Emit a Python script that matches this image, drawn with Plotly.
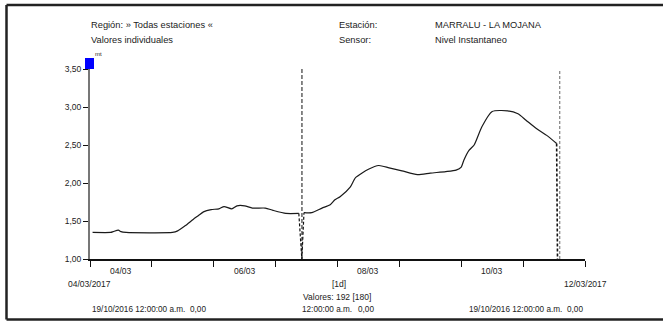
import plotly.graph_objects as go

# ---------------- data ----------------
times = [
    "2017-03-04 01:00", "2017-03-04 08:00", "2017-03-04 09:00", "2017-03-04 11:00",
    "2017-03-04 12:00", "2017-03-04 14:00", "2017-03-05 08:00", "2017-03-05 10:00",
    "2017-03-05 13:00", "2017-03-05 16:00", "2017-03-05 18:00", "2017-03-05 20:00",
    "2017-03-05 23:00", "2017-03-06 02:00", "2017-03-06 04:00", "2017-03-06 07:00",
    "2017-03-06 09:00", "2017-03-06 12:00", "2017-03-06 15:00", "2017-03-06 20:00",
    "2017-03-06 23:00", "2017-03-07 04:00", "2017-03-07 09:00", "2017-03-07 10:00",
    "2017-03-07 11:00", "2017-03-07 14:00", "2017-03-07 18:00", "2017-03-07 21:00",
    "2017-03-07 23:00", "2017-03-08 01:00", "2017-03-08 05:00", "2017-03-08 07:00",
    "2017-03-08 12:00", "2017-03-08 16:00", "2017-03-08 20:00", "2017-03-09 01:00",
    "2017-03-09 07:00", "2017-03-09 12:00", "2017-03-09 18:00", "2017-03-09 22:00",
    "2017-03-10 00:00", "2017-03-10 01:00", "2017-03-10 03:00", "2017-03-10 05:00",
    "2017-03-10 08:00", "2017-03-10 12:00", "2017-03-10 18:00", "2017-03-10 22:00",
    "2017-03-11 01:00", "2017-03-11 05:00", "2017-03-11 09:00", "2017-03-11 13:00",
]
levels = [
    1.35, 1.35, 1.36, 1.38,
    1.36, 1.35, 1.35, 1.37,
    1.44, 1.52, 1.57, 1.62,
    1.65, 1.66, 1.69, 1.66,
    1.70, 1.70, 1.67, 1.67,
    1.64, 1.60, 1.60, None,
    1.61, 1.61, 1.67, 1.71,
    1.78, 1.82, 1.95, 2.07,
    2.18, 2.23, 2.20, 2.16,
    2.11, 2.13, 2.15, 2.17,
    2.21, 2.30, 2.43, 2.50,
    2.74, 2.94, 2.95, 2.91,
    2.83, 2.72, 2.63, 2.52,
]

# gap markers (missing data)
gap_lines = ["2017-03-07 10:13", "2017-03-11 14:13"]
gap_drop_a_x = ["2017-03-07 09:00", "2017-03-07 10:10", "2017-03-07 11:00"]
gap_drop_a_y = [1.60, 1.00, 1.61]
gap_drop_b_x = ["2017-03-11 13:00", "2017-03-11 13:20"]
gap_drop_b_y = [2.52, 1.00]

day_ticks = ["2017-03-%02d" % d for d in range(4, 13)]
label_pos = ["2017-03-04 12:00", "2017-03-06 12:00", "2017-03-08 12:00", "2017-03-10 12:00"]
label_txt = ["04/03", "06/03", "08/03", "10/03"]
y_ticks = [1.0, 1.5, 2.0, 2.5, 3.0, 3.5]

# ---------------- layout helpers ----------------
W, H = 663, 322
L, R, T, B = 90, 78, 69, 63
PW, PH = W - L - R, H - T - B


def px(x):
    return (x - L) / PW


def py(y):
    return (H - B - y) / PH


FONT = "Liberation Sans, Arial, sans-serif"
TXT = "#222222"

fig = go.Figure()

fig.add_trace(go.Scatter(
    x=times, y=levels, mode="lines", connectgaps=False,
    line=dict(color="#1a1a1a", width=1.2, shape="spline", smoothing=0.6),
    hoverinfo="skip", showlegend=False))

fig.add_trace(go.Scatter(
    x=gap_drop_a_x, y=gap_drop_a_y, mode="lines",
    line=dict(color="#111111", width=1.2, dash="3px,2px"), showlegend=False))
fig.add_trace(go.Scatter(
    x=gap_drop_b_x, y=gap_drop_b_y, mode="lines",
    line=dict(color="#111111", width=1.6, dash="3px,2px"), showlegend=False))

for i, g in enumerate(gap_lines):
    fig.add_shape(type="line", xref="x", yref="paper", x0=g, x1=g, y0=0, y1=1.0,
                  line=dict(color="#111111" if i == 0 else "#666666", width=1,
                            dash="4px,2px" if i == 0 else "3px,2px"))

# frame: left, top and bottom edges only
frame = dict(color="#222222", width=2.5)
fig.add_shape(type="line", xref="paper", yref="paper",
              x0=px(6.5), x1=px(6.5), y0=py(5), y1=py(319.5), line=frame)
fig.add_shape(type="line", xref="paper", yref="paper",
              x0=px(6.5), x1=px(663), y0=py(5), y1=py(5), line=frame)
fig.add_shape(type="line", xref="paper", yref="paper",
              x0=px(6.5), x1=px(663), y0=py(319.5), y1=py(319.5), line=frame)

# blue square at top of y axis
fig.add_shape(type="rect", xref="paper", yref="paper",
              x0=px(85), x1=px(94), y0=py(69), y1=py(58),
              fillcolor="#0000ff", line=dict(color="#0000ff", width=0))

ann = []


def text(x, y, s, anchor="left", size=8.2):
    ann.append(dict(xref="paper", yref="paper", x=px(x), y=py(y), text=s,
                    showarrow=False, xanchor=anchor, yanchor="middle",
                    font=dict(family=FONT, size=size, color=TXT)))


text(89, 25, "Región: » Todas estaciones «", size=9.3)
text(89, 40, "Valores individuales", size=9.3)
text(337, 25, "Estación:", size=9.3)
text(337, 40, "Sensor:", size=9.3)
text(433, 25, "MARRALU - LA MOJANA", size=9.3)
text(433, 40, "Nivel Instantaneo", size=9.3)
text(93, 54, "mt", size=6)

for xp, t in zip(label_pos, label_txt):
    ann.append(dict(xref="x", yref="paper", x=xp, y=py(270.5), text=t,
                    showarrow=False, xanchor="center", yanchor="middle",
                    font=dict(family=FONT, size=8.5, color=TXT)))

text(89, 284, "04/03/2017", anchor="center", size=8.5)
text(585, 284, "12/03/2017", anchor="center", size=8.5)
text(339, 284, "[1d]", anchor="center", size=8.5)
text(337, 296.5, "Valores: 192 [180]", anchor="center", size=8.5)
text(90, 309, "19/10/2016 12:00:00 a.m.")
text(208, 309, "0,00", anchor="right")
text(300, 309, "12:00:00 a.m.")
text(376, 309, "0,00", anchor="right")
text(467, 309, "19/10/2016 12:00:00 a.m.")
text(585, 309, "0,00", anchor="right")

fig.update_layout(
    width=W, height=H,
    margin=dict(l=L, r=R, t=T, b=B, pad=0),
    paper_bgcolor="white", plot_bgcolor="white",
    separators=",.",
    showlegend=False,
    annotations=ann,
    font=dict(family=FONT, size=8.5, color=TXT),
    xaxis=dict(type="date", range=["2017-03-04", "2017-03-12"],
               tickmode="array", tickvals=day_ticks, ticktext=[""] * len(day_ticks),
               ticks="outside", ticklen=6, tickwidth=1.3, tickcolor="#111111",
               showline=True, linecolor="#111111", linewidth=1.5,
               showgrid=False, zeroline=False, fixedrange=True),
    yaxis=dict(range=[1.0, 3.5], tickmode="array", tickvals=y_ticks,
               tickformat=".2f", ticks="outside", ticklen=5, tickwidth=1.3,
               tickcolor="#111111", showline=True, linecolor="#777777", linewidth=2,
               showgrid=False, zeroline=False, fixedrange=True,
               tickfont=dict(family=FONT, size=8.5, color=TXT)),
)

fig.write_html("out.html", config={"displayModeBar": False},
               post_script="document.body.style.margin='0';document.body.style.overflow='hidden';")
